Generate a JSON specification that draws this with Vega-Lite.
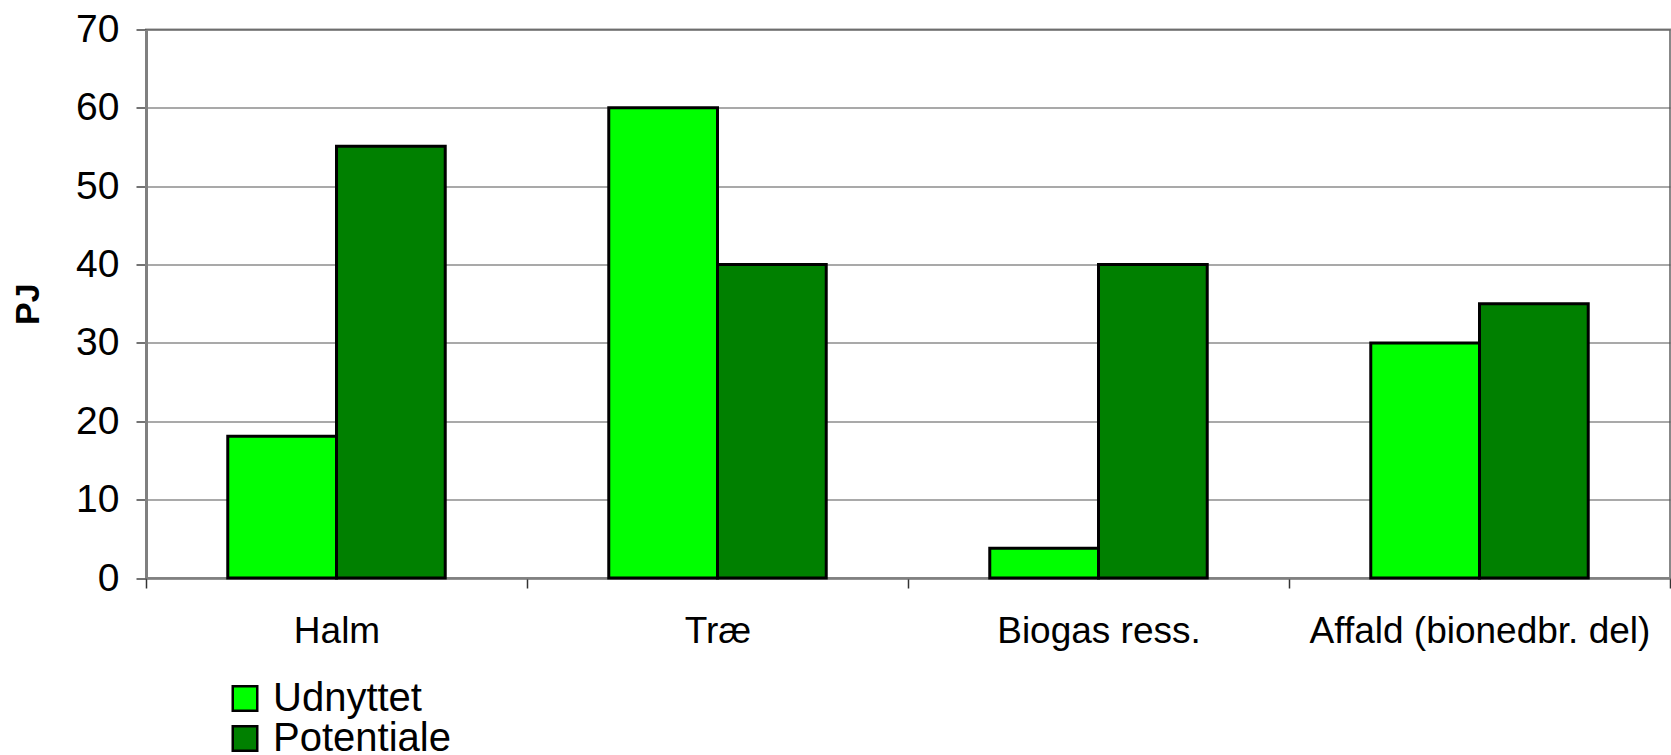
{
  "$schema": "https://vega.github.io/schema/vega-lite/v6.json",
  "autosize": {"type": "none"},
  "padding": {"left": 146, "top": 29.5, "right": 1, "bottom": 177},
  "width": 1524,
  "height": 548.5,
  "background": "white",
  "config": {
    "font": "Liberation Sans",
    "view": {"stroke": "#888888", "strokeWidth": 2}
  },
  "data": {
    "values": [
      {"kategori": "Halm", "serie": "Udnyttet", "PJ": 18.1},
      {"kategori": "Halm", "serie": "Potentiale", "PJ": 55.1},
      {"kategori": "Træ", "serie": "Udnyttet", "PJ": 60},
      {"kategori": "Træ", "serie": "Potentiale", "PJ": 40},
      {"kategori": "Biogas ress.", "serie": "Udnyttet", "PJ": 3.8},
      {"kategori": "Biogas ress.", "serie": "Potentiale", "PJ": 40},
      {"kategori": "Affald (bionedbr. del)", "serie": "Udnyttet", "PJ": 30},
      {"kategori": "Affald (bionedbr. del)", "serie": "Potentiale", "PJ": 35}
    ]
  },
  "mark": {"type": "bar", "stroke": "black", "strokeWidth": 3, "strokeJoin": "miter"},
  "encoding": {
    "x": {
      "field": "kategori",
      "type": "nominal",
      "sort": ["Halm", "Træ", "Biogas ress.", "Affald (bionedbr. del)"],
      "scale": {"paddingInner": 0, "paddingOuter": 0},
      "axis": {
        "title": null,
        "labelAngle": 0,
        "labelFontSize": 37,
        "labelColor": "black",
        "labelPadding": 25,
        "labelLimit": 0,
        "labelOverlap": false,
        "tickBand": "extent",
        "tickSize": 10,
        "tickColor": "#333333",
        "tickWidth": 1.5,
        "domainColor": "#808080",
        "domainWidth": 2,
        "grid": false
      }
    },
    "xOffset": {
      "field": "serie",
      "type": "nominal",
      "sort": ["Udnyttet", "Potentiale"],
      "scale": {"paddingInner": 0, "paddingOuter": 0.752}
    },
    "y": {
      "field": "PJ",
      "type": "quantitative",
      "scale": {"domain": [0, 70], "nice": false},
      "axis": {
        "title": "PJ",
        "titleFontSize": 34,
        "titleFontWeight": "bold",
        "titleColor": "black",
        "titlePadding": 30,
        "values": [0, 10, 20, 30, 40, 50, 60, 70],
        "labelFontSize": 39,
        "labelColor": "black",
        "labelPadding": 17,
        "tickSize": 10,
        "tickColor": "#444444",
        "tickWidth": 1.5,
        "domainColor": "#808080",
        "domainWidth": 3,
        "grid": true,
        "gridColor": "#555555",
        "gridWidth": 1.2
      }
    },
    "fill": {
      "field": "serie",
      "type": "nominal",
      "sort": ["Udnyttet", "Potentiale"],
      "scale": {"domain": ["Udnyttet", "Potentiale"], "range": ["#00FF00", "#008000"]},
      "legend": {
        "title": null,
        "orient": "none",
        "legendX": 79,
        "legendY": 649,
        "padding": 0,
        "symbolType": "square",
        "symbolSize": 600,
        "symbolStrokeColor": "black",
        "symbolStrokeWidth": 2.5,
        "symbolOpacity": 1,
        "labelFontSize": 40,
        "labelColor": "black",
        "labelOffset": 8,
        "rowPadding": 0,
        "labelLimit": 400
      }
    }
  }
}
